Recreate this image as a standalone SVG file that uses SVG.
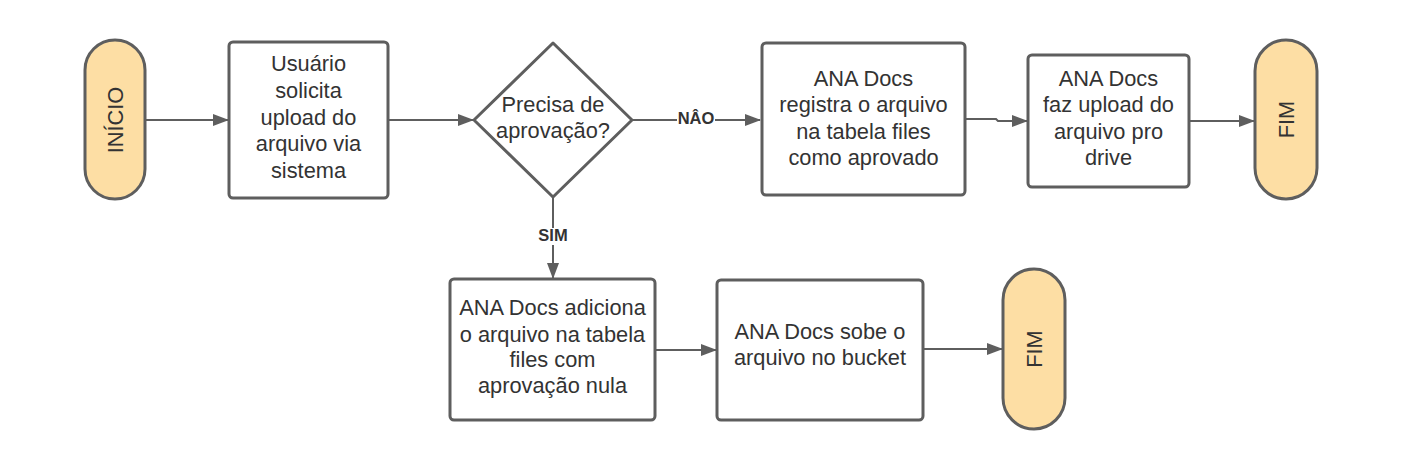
<svg xmlns="http://www.w3.org/2000/svg" width="1401" height="467" viewBox="0 0 1401 467">
<defs>
<marker id="arr" markerWidth="16" markerHeight="12" refX="15" refY="6" orient="auto" markerUnits="userSpaceOnUse">
<path d="M0,0 L16,6 L0,12 Z" fill="#5e5e5e"/>
</marker>
<style>
.box{fill:#ffffff;stroke:#5e5e5e;stroke-width:3}
.pill{fill:#fddea4;stroke:#5e5e5e;stroke-width:3}
.t{font-family:"Liberation Sans",Arial,sans-serif;font-size:21.8px;fill:#333333;text-anchor:middle}
.lbl{font-family:"Liberation Sans",Arial,sans-serif;font-size:16.5px;font-weight:bold;fill:#333333;text-anchor:middle}
.c{fill:none;stroke:#5e5e5e;stroke-width:2;marker-end:url(#arr)}
</style>
</defs>
<rect width="1401" height="467" fill="#ffffff"/>
<g id="connectors">
<path class="c" d="M146,120 L228,120"/>
<path class="c" d="M388,120 L473,120"/>
<path class="c" d="M632,120 L760,120"/>
<path class="c" d="M965,119 L996,119 L998,121 L1027,121"/>
<path class="c" d="M1189,121 L1254,121"/>
<path class="c" d="M553,197 L553,278"/>
<path class="c" d="M655,350 L716,350"/>
<path class="c" d="M923,349 L1002,349"/>
<rect x="677" y="110" width="38" height="17" fill="#ffffff"/>
<text class="lbl" x="696" y="124">NÂO</text>
<rect x="536" y="228" width="34" height="17" fill="#ffffff"/>
<text class="lbl" x="553" y="241">SIM</text>
</g>
<g id="inicio">
<rect class="pill" x="85" y="40" width="60" height="159" rx="30"/>
<text class="t" transform="translate(123,120) rotate(-90)" x="0" y="0">INÍCIO</text>
</g>
<g id="usuario">
<rect class="box" x="229" y="42" width="159" height="156" rx="4"/>
<text class="t" x="308.5" y="71">Usuário</text>
<text class="t" x="308.5" y="98">solicita</text>
<text class="t" x="308.5" y="124.5">upload do</text>
<text class="t" x="308.5" y="151">arquivo via</text>
<text class="t" x="308.5" y="178">sistema</text>
</g>
<g id="decisao">
<path class="box" d="M553,43 L632,120 L553,197 L474,120 Z" stroke-linejoin="round"/>
<text class="t" x="553" y="111.5">Precisa de</text>
<text class="t" x="553" y="137.5">aprovação?</text>
</g>
<g id="registra">
<rect class="box" x="762" y="43" width="203" height="152" rx="4"/>
<text class="t" x="863.5" y="85.5">ANA Docs</text>
<text class="t" x="863.5" y="112">registra o arquivo</text>
<text class="t" x="863.5" y="138.5">na tabela files</text>
<text class="t" x="863.5" y="165">como aprovado</text>
</g>
<g id="upload-drive">
<rect class="box" x="1028" y="55" width="161" height="132" rx="4"/>
<text class="t" x="1108.5" y="85.5">ANA Docs</text>
<text class="t" x="1108.5" y="112">faz upload do</text>
<text class="t" x="1108.5" y="138.5">arquivo pro</text>
<text class="t" x="1108.5" y="165">drive</text>
</g>
<g id="fim1">
<rect class="pill" x="1255" y="40" width="62" height="159" rx="31"/>
<text class="t" transform="translate(1294,119.5) rotate(-90)" x="0" y="0">FIM</text>
</g>
<g id="adiciona">
<rect class="box" x="450" y="279" width="205" height="141" rx="4"/>
<text class="t" x="552.5" y="315">ANA Docs adiciona</text>
<text class="t" x="552.5" y="341.5">o arquivo na tabela</text>
<text class="t" x="552.5" y="367">files com</text>
<text class="t" x="552.5" y="393">aprovação nula</text>
</g>
<g id="bucket">
<rect class="box" x="717" y="280" width="206" height="140" rx="4"/>
<text class="t" x="820" y="339">ANA Docs sobe o</text>
<text class="t" x="820" y="365">arquivo no bucket</text>
</g>
<g id="fim2">
<rect class="pill" x="1003" y="269" width="62" height="160" rx="31"/>
<text class="t" transform="translate(1042,349) rotate(-90)" x="0" y="0">FIM</text>
</g>
</svg>
